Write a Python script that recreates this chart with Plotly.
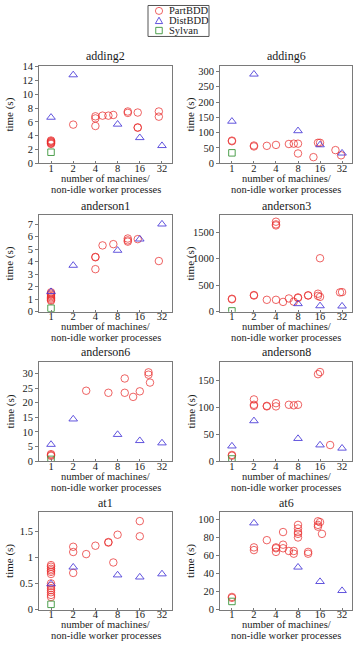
import plotly.graph_objects as go

# ---------------- data ----------------
names = ["adding2", "adding6", "anderson1", "anderson3",
         "anderson6", "anderson8", "at1", "at6"]
x_tick_vals = [1, 2, 4, 8, 16, 32]
x_tick_text = ["1", "2", "4", "8", "16", "32"]

adding2_part_x = [1, 1, 1, 1, 1, 1, 2, 4, 4, 4, 5, 6, 7, 11, 11, 15, 15, 15, 29, 29]
adding2_part_y = [2.8, 2.9, 3.0, 3.1, 3.2, 3.3, 5.6, 6.8, 6.5, 5.4, 6.9, 6.9, 7.0, 7.5, 7.3, 7.35, 5.2, 5.15, 7.5, 6.75]
adding2_dist_x = [1, 2, 8, 16, 32]
adding2_dist_y = [6.65, 12.8, 5.65, 3.7, 2.55]
adding2_syl_x = [1]
adding2_syl_y = [1.6]

adding6_part_x = [1, 1, 2, 2, 3, 4, 6, 7, 8, 8, 13, 15, 16, 26, 31]
adding6_part_y = [72, 74, 58, 55, 57, 60, 63, 64, 64, 32, 20, 67, 67, 43, 26]
adding6_dist_x = [1, 2, 8, 16, 32]
adding6_dist_y = [137, 291, 106, 60, 33]
adding6_syl_x = [1]
adding6_syl_y = [34]

anderson1_part_x = [1, 1, 1, 1, 1, 1, 1, 1, 4, 4, 4, 5, 7, 11, 11, 11, 15, 29]
anderson1_part_y = [1.55, 1.45, 1.35, 1.25, 1.15, 1.05, 0.95, 0.88, 4.35, 4.38, 3.4, 5.3, 5.4, 5.85, 5.7, 5.6, 5.8, 4.05]
anderson1_dist_x = [1, 2, 8, 16, 32]
anderson1_dist_y = [1.6, 3.7, 4.9, 5.8, 7.0]
anderson1_syl_x = [1]
anderson1_syl_y = [0.28]

anderson3_part_x = [1, 1, 2, 2, 3, 4, 4, 4, 4, 5, 6, 7, 8, 8, 11, 11, 15, 15, 16, 16, 30, 32]
anderson3_part_y = [235, 245, 305, 315, 225, 1700, 1650, 1630, 225, 185, 250, 190, 260, 270, 305, 310, 340, 300, 280, 1010, 365, 370]
anderson3_dist_x = [8, 16, 32]
anderson3_dist_y = [150, 110, 105]
anderson3_syl_x = [1]
anderson3_syl_y = [15]

anderson6_part_x = [1, 1, 1, 3, 6, 10, 10, 13, 16, 21, 21, 22]
anderson6_part_y = [1.8, 2.1, 2.4, 24.1, 23.4, 28.3, 23.4, 22.0, 23.9, 30.4, 29.6, 26.9]
anderson6_dist_x = [1, 2, 8, 16, 32]
anderson6_dist_y = [5.7, 14.4, 9.1, 7.0, 6.2]
anderson6_syl_x = [1]
anderson6_syl_y = [0.6]

anderson8_part_x = [1, 1, 2, 2, 2, 3, 3, 4, 4, 6, 7, 8, 15, 16, 22]
anderson8_part_y = [10, 11.5, 115, 105, 103, 103, 102, 108, 102, 105, 104, 105, 162, 166, 30]
anderson8_dist_x = [1, 2, 8, 16, 32]
anderson8_dist_y = [28, 75, 42, 30, 24]
anderson8_syl_x = [1]
anderson8_syl_y = [4]

at1_part_x = [1] * 13 + [2, 2, 2, 3, 4, 6, 6, 7, 8, 16, 16]
at1_part_y = [0.85, 0.82, 0.78, 0.75, 0.72, 0.68, 0.5, 0.45, 0.41, 0.37, 0.33, 0.28, 0.24,
              1.2, 1.1, 0.7, 1.06, 1.22, 1.28, 1.29, 0.9, 1.43, 1.69, 1.4]
at1_dist_x = [1, 2, 8, 16, 32]
at1_dist_y = [0.49, 0.81, 0.66, 0.62, 0.68]
at1_syl_x = [1]
at1_syl_y = [0.1]

at6_part_x = [1, 1, 2, 2, 3, 4, 4, 4, 5, 5, 5, 6, 7, 7, 8, 8, 8, 8, 8, 11, 11, 15, 15, 15, 16, 17]
at6_part_y = [14, 13, 69, 66, 77, 69, 68, 64, 86, 72, 68, 65, 65, 62, 94, 90, 86, 84, 80, 64, 62, 98, 94, 92, 97, 84]
at6_dist_x = [2, 8, 16, 32]
at6_dist_y = [96, 47, 31, 21]
at6_syl_x = [1]
at6_syl_y = [9]

panel_data = {
    "adding2": (adding2_part_x, adding2_part_y, adding2_dist_x, adding2_dist_y, adding2_syl_x, adding2_syl_y),
    "adding6": (adding6_part_x, adding6_part_y, adding6_dist_x, adding6_dist_y, adding6_syl_x, adding6_syl_y),
    "anderson1": (anderson1_part_x, anderson1_part_y, anderson1_dist_x, anderson1_dist_y, anderson1_syl_x, anderson1_syl_y),
    "anderson3": (anderson3_part_x, anderson3_part_y, anderson3_dist_x, anderson3_dist_y, anderson3_syl_x, anderson3_syl_y),
    "anderson6": (anderson6_part_x, anderson6_part_y, anderson6_dist_x, anderson6_dist_y, anderson6_syl_x, anderson6_syl_y),
    "anderson8": (anderson8_part_x, anderson8_part_y, anderson8_dist_x, anderson8_dist_y, anderson8_syl_x, anderson8_syl_y),
    "at1": (at1_part_x, at1_part_y, at1_dist_x, at1_dist_y, at1_syl_x, at1_syl_y),
    "at6": (at6_part_x, at6_part_y, at6_dist_x, at6_dist_y, at6_syl_x, at6_syl_y),
}

y_ticks = {
    "adding2": [0, 2, 4, 6, 8, 10, 12, 14],
    "adding6": [0, 50, 100, 150, 200, 250, 300],
    "anderson1": [0, 1, 2, 3, 4, 5, 6, 7],
    "anderson3": [0, 500, 1000, 1500],
    "anderson6": [0, 5, 10, 15, 20, 25, 30],
    "anderson8": [0, 50, 100, 150],
    "at1": [0, 0.5, 1, 1.5],
    "at6": [0, 20, 40, 60, 80, 100],
}

# ---------------- layout / style ----------------
W, H = 359, 648
FONT = "Liberation Serif"
y_ranges = {
    "adding2": [0, 14.1], "adding6": [0, 318], "anderson1": [0, 7.7],
    "anderson3": [0, 1820], "anderson6": [0, 34], "anderson8": [0, 185],
    "at1": [0, 1.86], "at6": [0, 108],
}
col_px = [(39, 172), (220, 352)]
row_px = [(62, 161), (214, 312), (363, 464), (516, 615)]

RED = "rgba(232,40,40,0.72)"
BLUE = "rgba(70,55,215,0.85)"
GREEN = "rgba(60,150,60,0.9)"
FRAME = "#7a7a7a"
TXT = "#1a1a1a"

fig = go.Figure()
annotations = []
shapes = []
layout_axes = {}

for i, name in enumerate(names):
    r, c = divmod(i, 2)
    n = i + 1
    s = "" if n == 1 else str(n)
    x0, x1 = col_px[c]
    y0, y1 = row_px[r]
    px_, py_, dx_, dy_, sx_, sy_ = panel_data[name]

    fig.add_trace(go.Scatter(x=px_, y=py_, mode="markers", name="PartBDD",
                             xaxis="x" + s, yaxis="y" + s, showlegend=False,
                             marker=dict(symbol="circle-open", size=7.5, color=RED,
                                         line=dict(width=1))))
    fig.add_trace(go.Scatter(x=dx_, y=dy_, mode="markers", name="DistBDD",
                             xaxis="x" + s, yaxis="y" + s, showlegend=False,
                             marker=dict(symbol="triangle-up-open", size=7.5, color=BLUE,
                                         line=dict(width=1))))
    fig.add_trace(go.Scatter(x=sx_, y=sy_, mode="markers", name="Sylvan",
                             xaxis="x" + s, yaxis="y" + s, showlegend=False,
                             marker=dict(symbol="square-open", size=6.5, color=GREEN,
                                         line=dict(width=1))))

    yt = y_ticks[name]
    layout_axes["xaxis" + s] = dict(
        domain=[x0 / W, x1 / W], anchor="y" + s, type="log",
        range=[-0.163, 1.641], tickvals=x_tick_vals, ticktext=x_tick_text,
        showline=True, mirror=True, linecolor=FRAME, linewidth=1,
        ticks="inside", ticklen=2, tickcolor=FRAME, showgrid=False, zeroline=False,
        ticklabelstandoff=-5,
        tickfont=dict(family=FONT, size=10.5, color=TXT))
    layout_axes["yaxis" + s] = dict(
        domain=[1 - y1 / H, 1 - y0 / H], anchor="x" + s,
        range=y_ranges[name], tickvals=yt, ticktext=[("%g" % v) for v in yt],
        showline=True, mirror=True, linecolor=FRAME, linewidth=1,
        ticks="outside", ticklen=3, tickcolor=FRAME, showgrid=False, zeroline=False,
        tickfont=dict(family=FONT, size=10.5, color=TXT))

    xc = (x0 + x1) / 2 / W
    annotations.append(dict(text=name, x=xc, y=1 - (y0 - 0.5) / H, xref="paper", yref="paper",
                            xanchor="center", yanchor="bottom", showarrow=False,
                            font=dict(family=FONT, size=12, color=TXT)))
    annotations.append(dict(text="number of machines/", x=xc, y=1 - (y1 + 15.5) / H,
                            xref="paper", yref="paper", xanchor="center", yanchor="middle",
                            showarrow=False, font=dict(family=FONT, size=10.5, color=TXT)))
    annotations.append(dict(text="non-idle worker processes", x=xc, y=1 - (y1 + 26.5) / H,
                            xref="paper", yref="paper", xanchor="center", yanchor="middle",
                            showarrow=False, font=dict(family=FONT, size=10.5, color=TXT)))
    annotations.append(dict(text="time (s)", x=(x0 - 29) / W, y=1 - (y0 + y1) / 2 / H,
                            xref="paper", yref="paper", xanchor="center", yanchor="middle",
                            textangle=-90, showarrow=False,
                            font=dict(family=FONT, size=11, color=TXT)))

# ---------------- legend (drawn manually: key shapes + labels) ----------------
legend_labels = ["PartBDD", "DistBDD", "Sylvan"]
legend_colors = [RED, BLUE, GREEN]
KX, R = 159, 3.6
for k, (lab, col) in enumerate(zip(legend_labels, legend_colors)):
    cy = 6 + 10 * k
    if k == 0:
        shapes.append(dict(type="circle", xref="paper", yref="paper",
                           x0=(KX - R) / W, x1=(KX + R) / W,
                           y0=1 - (cy + R) / H, y1=1 - (cy - R) / H,
                           line=dict(color=col, width=1)))
    elif k == 1:
        path = "M %f,%f L %f,%f L %f,%f Z" % (
            (KX - R) / W, 1 - (cy + R * 0.8) / H,
            (KX + R) / W, 1 - (cy + R * 0.8) / H,
            KX / W, 1 - (cy - R) / H)
        shapes.append(dict(type="path", xref="paper", yref="paper", path=path,
                           line=dict(color=col, width=1)))
    else:
        q = R * 0.9
        shapes.append(dict(type="rect", xref="paper", yref="paper",
                           x0=(KX - q) / W, x1=(KX + q) / W,
                           y0=1 - (cy + q) / H, y1=1 - (cy - q) / H,
                           line=dict(color=col, width=1)))
    annotations.append(dict(text=lab, x=167 / W, y=1 - cy / H, xref="paper", yref="paper",
                            xanchor="left", yanchor="middle", showarrow=False,
                            font=dict(family=FONT, size=10.5, color=TXT)))

shapes.append(dict(type="rect", xref="paper", yref="paper",
                   x0=148 / W, x1=209 / W, y0=1 - 32 / H, y1=1 - 0.5 / H,
                   line=dict(color="#555555", width=1), fillcolor="rgba(0,0,0,0)"))

fig.update_layout(width=W, height=H, margin=dict(l=0, r=0, t=0, b=0),
                  paper_bgcolor="white", plot_bgcolor="white",
                  showlegend=False, annotations=annotations, shapes=shapes,
                  font=dict(family=FONT, color=TXT), **layout_axes)

fig.write_html("out.html")
